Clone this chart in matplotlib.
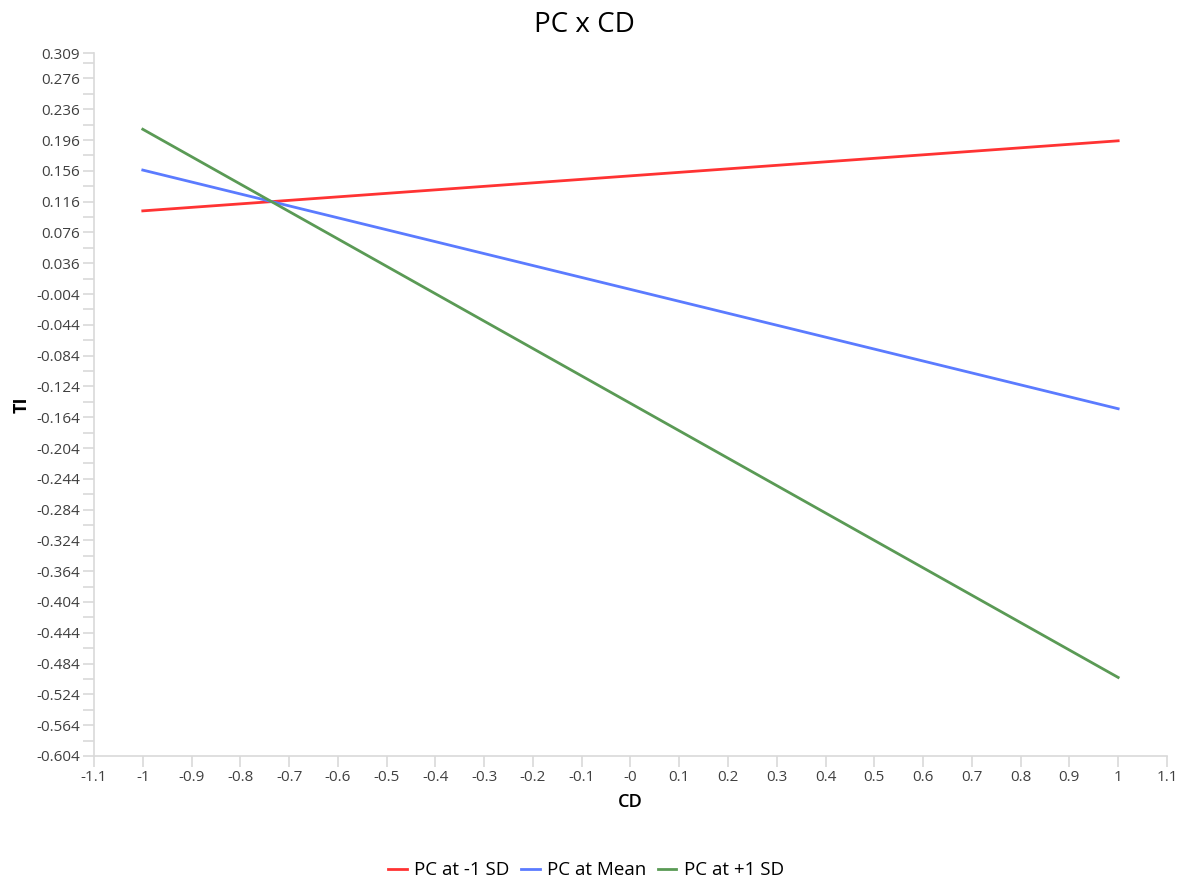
import matplotlib.pyplot as plt
from matplotlib.ticker import FixedLocator
import numpy as np

plt.rcParams['font.family'] = ['Open Sans', 'DejaVu Sans']

# CD values at which the simple slopes are evaluated
cd = [-1, 1]
# TI predicted at each PC level
pc_low = [0.104, 0.195]
pc_mean = [0.157, -0.153]
pc_high = [0.210, -0.502]

labels = ['PC at -1 SD', 'PC at Mean', 'PC at +1 SD']
colors = ['#FF3333', '#5B7BFF', '#5A9A55']

x_ticks = [round(v, 1) for v in np.arange(-1.1, 1.11, 0.1)]
x_labels = ['-0' if abs(v) < 1e-9 else ('%g' % v) for v in x_ticks]
y_major = [round(-0.604 + 0.04 * i, 3) for i in range(23)] + [0.309]
y_minor = [round(-0.584 + 0.04 * i, 3) for i in range(23)]

fig = plt.figure(figsize=(11.84, 8.81), dpi=100)
ax = fig.add_axes([0.0794, 0.1419, 0.9062, 0.7979])

for ys, c, lab in zip([pc_low, pc_mean, pc_high], colors, labels):
    ax.plot(cd, ys, color=c, linewidth=2, label=lab)

ax.set_xlim(-1.1, 1.1)
ax.set_ylim(-0.604, 0.309)
ax.xaxis.set_major_locator(FixedLocator(x_ticks))
ax.set_xticklabels(x_labels)
ax.yaxis.set_major_locator(FixedLocator(y_major))
ax.yaxis.set_minor_locator(FixedLocator(y_minor))
ax.set_yticklabels(['%.3f' % v for v in y_major])

for s in ['top', 'right']:
    ax.spines[s].set_visible(False)
for s in ['left', 'bottom']:
    ax.spines[s].set_color('#D9D9D9')
    ax.spines[s].set_linewidth(1.2)
ax.tick_params(axis='both', which='major', length=8, width=1.2, color='#D9D9D9',
               labelsize=11, labelcolor='#404040', pad=2)
ax.tick_params(axis='y', which='minor', length=8, width=1.2, color='#D9D9D9')

fig.suptitle('PC x CD', x=0.494, y=0.988, fontsize=20)
ax.set_xlabel('CD', fontsize=13, fontweight='semibold', labelpad=6)
ax.set_ylabel('TI', fontsize=13, fontweight='bold', labelpad=4)

fig.legend(loc='lower center', bbox_to_anchor=(0.495, -0.017), ncol=3, frameon=False,
           fontsize=13.5, handlelength=1.0, handletextpad=0.4, columnspacing=0.6)

fig.savefig('out.png', dpi=100)
